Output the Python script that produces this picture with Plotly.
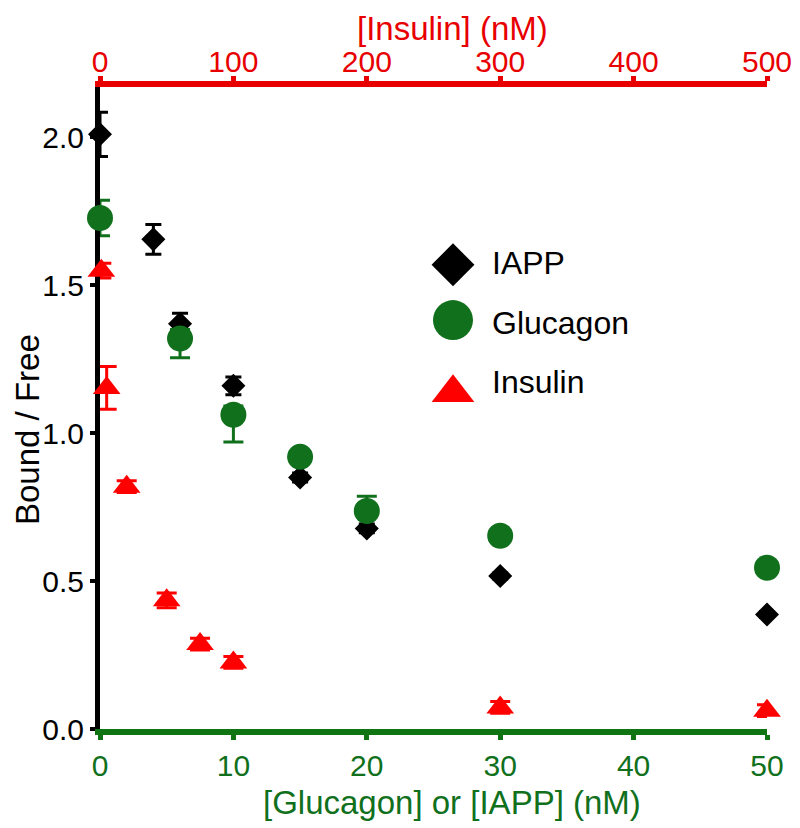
import plotly.graph_objects as go

# ---------------- data ----------------
iapp_x = [0, 4, 6, 10, 15, 20, 30, 50]
iapp_y = [2.01, 1.655, 1.37, 1.16, 0.85, 0.678, 0.517, 0.387]
iapp_err = [0.075, 0.05, 0.035, 0.03, 0.015, 0.015, 0.01, 0.01]

gluc_x = [0, 6, 10, 15, 20, 30, 50]
gluc_y = [1.727, 1.32, 1.062, 0.92, 0.737, 0.653, 0.545]
gluc_err_plus = [0.06, 0.03, 0.03, 0.02, 0.05, 0.015, 0.02]
gluc_err_minus = [0.06, 0.065, 0.092, 0.02, 0.02, 0.015, 0.02]

ins_x = [1, 5, 20, 50, 75, 100, 300, 500]
ins_y = [1.549, 1.153, 0.819, 0.435, 0.287, 0.225, 0.073, 0.062]
ins_err = [0.025, 0.072, 0.02, 0.025, 0.02, 0.02, 0.02, 0.02]

series_names = ["IAPP", "Glucagon", "Insulin"]
x_ticks = [0, 10, 20, 30, 40, 50]
x2_ticks = [0, 100, 200, 300, 400, 500]
y_ticks = [0.0, 0.5, 1.0, 1.5, 2.0]
y_tick_text = ["0.0", "0.5", "1.0", "1.5", "2.0"]
x_title = "[Glucagon] or [IAPP] (nM)"
x2_title = "[Insulin] (nM)"
y_title = "Bound / Free"

# ---------------- styles ----------------
BLACK = "#000000"
GREEN = "#10701c"
GREEN_AX = "#0f7412"
RED = "#ff0000"
RED_AX = "#e80000"
FONT = "Liberation Sans, Arial, sans-serif"

fig = go.Figure()

fig.add_trace(go.Scatter(
    x=iapp_x, y=iapp_y, mode="markers", name=series_names[0],
    marker=dict(symbol="diamond", size=18.5, color=BLACK, line=dict(width=0)),
    error_y=dict(type="data", array=iapp_err, color=BLACK, thickness=3, width=8),
    cliponaxis=False, showlegend=False, xaxis="x", yaxis="y"))

fig.add_trace(go.Scatter(
    x=gluc_x, y=gluc_y, mode="markers", name=series_names[1],
    marker=dict(symbol="circle", size=26, color=GREEN, line=dict(width=0)),
    error_y=dict(type="data", array=gluc_err_plus, arrayminus=gluc_err_minus,
                 symmetric=False, color=GREEN, thickness=3, width=10),
    cliponaxis=False, showlegend=False, xaxis="x", yaxis="y"))

fig.add_trace(go.Scatter(
    x=ins_x, y=ins_y, mode="markers", name=series_names[2],
    marker=dict(symbol="triangle-up", size=24, color=RED, line=dict(width=0)),
    error_y=dict(type="data", array=ins_err, color=RED, thickness=3, width=10),
    cliponaxis=False, showlegend=False, xaxis="x2", yaxis="y"))

# ---------------- custom legend (own hidden axes) ----------------
leg_symbols = ["diamond", "circle", "triangle-up"]
leg_colors = [BLACK, GREEN, RED]
leg_sizes = [33, 40, 37]
leg_rows = [2, 1, 0]
leg_nudge = [-0.03, 0.04, -0.18]
for name, sym, col, sz, row, nud in zip(series_names, leg_symbols, leg_colors,
                                        leg_sizes, leg_rows, leg_nudge):
    fig.add_trace(go.Scatter(
        x=[0], y=[row + nud], mode="markers",
        marker=dict(symbol=sym, size=sz, color=col, line=dict(width=0)),
        showlegend=False, hoverinfo="skip", cliponaxis=False,
        xaxis="x3", yaxis="y3"))
    fig.add_annotation(x=1, y=row, xref="x3", yref="y3", text=name,
                       showarrow=False, xanchor="left", yanchor="middle",
                       font=dict(family=FONT, size=32, color=BLACK))

# ---------------- axis titles (as annotations, positioned like the reference) ----
fig.add_annotation(x=0.528, y=-0.115, xref="paper", yref="paper", text=x_title,
                   showarrow=False, xanchor="center", yanchor="middle",
                   font=dict(family=FONT, size=33, color=GREEN))
fig.add_annotation(x=0.529, y=1.0919, xref="paper", yref="paper", text=x2_title,
                   showarrow=False, xanchor="center", yanchor="middle",
                   borderpad=0,
                   font=dict(family=FONT, size=33, color=RED_AX))
fig.add_annotation(x=-0.1094, y=0.4657, xref="paper", yref="paper", text=y_title,
                   showarrow=False, xanchor="center", yanchor="middle",
                   textangle=-90, borderpad=0,
                   font=dict(family=FONT, size=33, color=BLACK))

fig.update_layout(
    width=800, height=828,
    margin=dict(l=92, r=41, t=79, b=107),
    paper_bgcolor="white", plot_bgcolor="white",
    font=dict(family=FONT, size=30, color=BLACK),
    showlegend=False,
    xaxis=dict(
        range=[0, 50], tickvals=x_ticks, showgrid=False, zeroline=False,
        showline=True, linecolor=GREEN_AX, linewidth=6,
        ticks="outside", ticklen=5, tickwidth=5, tickcolor=GREEN_AX,
        tickfont=dict(family=FONT, size=30, color=GREEN),
        layer="below traces", anchor="y"),
    xaxis2=dict(
        range=[0, 500], tickvals=x2_ticks, showgrid=False, zeroline=False,
        overlaying="x", side="top", anchor="y",
        showline=True, linecolor=RED_AX, linewidth=6,
        ticks="outside", ticklen=5, tickwidth=5, tickcolor=RED_AX,
        tickfont=dict(family=FONT, size=30, color=RED_AX),
        ticklabelstandoff=-8,
        layer="below traces"),
    yaxis=dict(
        range=[0, 2.17], tickvals=y_ticks, ticktext=y_tick_text,
        showgrid=False, zeroline=False,
        showline=True, linecolor=BLACK, linewidth=5,
        ticks="outside", ticklen=5, tickwidth=4, tickcolor=BLACK,
        tickfont=dict(family=FONT, size=30, color=BLACK),
        layer="below traces"),
    xaxis3=dict(domain=[0.45, 0.65], range=[-1.428, 2.177], visible=False,
                anchor="y3", fixedrange=True),
    yaxis3=dict(domain=[0.4, 0.8], range=[-1.516, 2.8], visible=False,
                anchor="x3", fixedrange=True),
)

fig.write_html("out.html")
